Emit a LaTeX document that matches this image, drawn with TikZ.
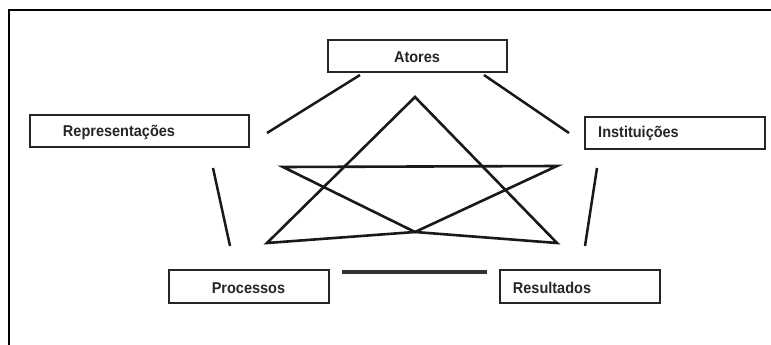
\documentclass[tikz,border=0pt]{standalone}
\usepackage{fontspec}
\setmainfont{Liberation Sans}
\begin{document}
\begin{tikzpicture}[x=1pt,y=-1pt,
  box/.style={draw=black!85,line width=1.4pt,fill=white,minimum height=32pt,inner sep=0pt},
  lbl/.style={font=\bfseries\fontsize{14.5}{16}\selectfont,text=black!85,inner sep=0pt,anchor=center,yscale=1.08},
  conn/.style={line width=2.5pt,draw=black!90},
  star/.style={line width=2.6pt,draw=black!90,line join=miter},
  heavy/.style={line width=4.5pt,draw=black!80}]
\useasboundingbox (0,0) rectangle (771,345);
\fill[white] (0,0) rectangle (771,345);
% frame
\draw[line width=2pt] (8.5,345) -- (8.5,10) -- (771,10);
% boxes
\node[box,minimum width=179pt] (atores) at (417.5,56) {};
\node[lbl] (tatores) at (417,57) {Atores};
\node[box,minimum width=219pt] (repr) at (139.5,131) {};
\node[lbl] (trepr) at (119,132) {Representações};
\node[box,minimum width=180pt] (inst) at (675,133) {};
\node[lbl] (tinst) at (638.5,133) {Instituições};
\node[box,minimum width=160pt,minimum height=33pt] (proc) at (249,286.5) {};
\node[lbl] (tproc) at (248.5,288) {Processos};
\node[box,minimum width=160pt,minimum height=33pt] (res) at (580,286.5) {};
\node[lbl] (tres) at (552,288) {Resultados};
% connector end points
\coordinate (a1) at (360,75);
\coordinate (a2) at (267,133);
\coordinate (b1) at (484,75);
\coordinate (b2) at (569,133);
\coordinate (c1) at (213,168);
\coordinate (c2) at (230,246);
\coordinate (d1) at (597,168);
\coordinate (d2) at (585,246);
\coordinate (e1) at (342,272);
\coordinate (e2) at (487,272);
\draw[conn] (a1) -- (a2);
\draw[conn] (b1) -- (b2);
\draw[conn] (c1) -- (c2);
\draw[conn] (d1) -- (d2);
\draw[heavy] (e1) -- (e2);
% star
\coordinate (apex) at (415,97);
\coordinate (bl) at (267,243);
\coordinate (br) at (557,243);
\coordinate (mid) at (415,232);
\coordinate (tl) at (283,167);
\coordinate (tr) at (557,166);
\draw[star] (apex) -- (bl) -- (mid) -- (br) -- cycle;
\draw[star] (tl) -- (tr) -- (mid) -- cycle;
\end{tikzpicture}
\end{document}
